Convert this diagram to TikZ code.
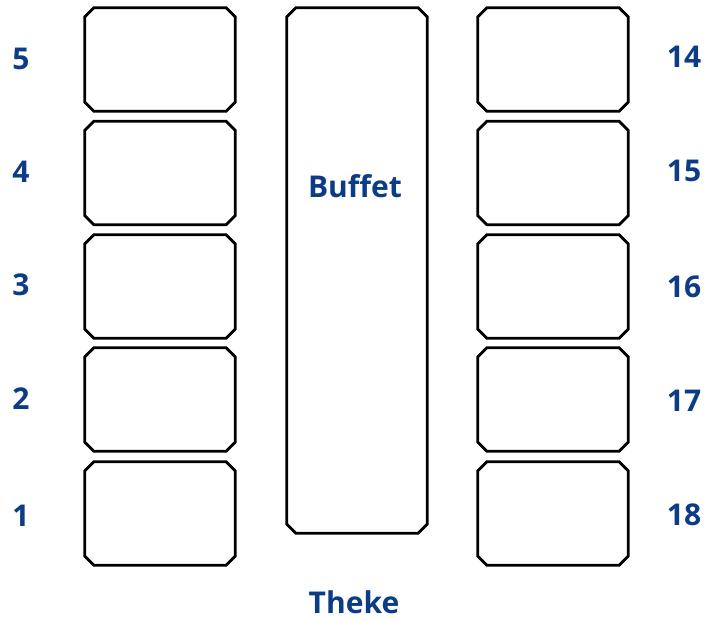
\documentclass[tikz,border=0pt]{standalone}
\usepackage{fontspec}
\setmainfont{Open Sans}
\usepackage{tikz}
\definecolor{labc}{HTML}{0B3C85}

\begin{document}
\begin{tikzpicture}[x=1pt,y=1pt,
  tablebox/.style={rectangle,inner sep=0pt,minimum width=150pt,minimum height=103pt},
  numlab/.style={text=labc,font=\fontsize{30}{32}\selectfont\bfseries},
  edge/.style={draw,line width=2.8pt,line join=miter}]
  \useasboundingbox (0,0) rectangle (708,-620);
  % left row of tables, 1 at the bottom
  \node[tablebox] (t5) at (160,-59.5) {};
  \node[tablebox] (t4) at (160,-173) {};
  \node[tablebox] (t3) at (160,-286.5) {};
  \node[tablebox] (t2) at (160,-399.5) {};
  \node[tablebox] (t1) at (160,-513.5) {};
  \node[numlab] (n5) at (21,-59) {5};
  \node[numlab] (n4) at (21,-172) {4};
  \node[numlab] (n3) at (21,-285) {3};
  \node[numlab] (n2) at (21,-399) {2};
  \node[numlab] (n1) at (21,-516) {1};
  % buffet in the middle
  \node[tablebox,minimum width=140pt,minimum height=525pt] (buffet) at (357,-270.5) {};
  \node[numlab] (bufflab) at (355,-186) {Buffet};
  % right row of tables
  \node[tablebox] (t14) at (553,-59.5) {};
  \node[tablebox] (t15) at (553,-173) {};
  \node[tablebox] (t16) at (553,-286.5) {};
  \node[tablebox] (t17) at (553,-399.5) {};
  \node[tablebox] (t18) at (553,-513.5) {};
  \node[numlab] (n14) at (684,-57) {14};
  \node[numlab] (n15) at (684,-171) {15};
  \node[numlab] (n16) at (684,-287) {16};
  \node[numlab] (n17) at (684,-401) {17};
  \node[numlab] (n18) at (684,-515) {18};
  % counter below
  \node[numlab] (theke) at (354,-602) {Theke};
  % outlines with cut corners
  \foreach \b in {t1,t2,t3,t4,t5,buffet,t14,t15,t16,t17,t18}
    \path[edge] ([xshift=9pt]\b.north west) -- ([xshift=-9pt]\b.north east)
      -- ([yshift=-9pt]\b.north east) -- ([yshift=9pt]\b.south east)
      -- ([xshift=-9pt]\b.south east) -- ([xshift=9pt]\b.south west)
      -- ([yshift=9pt]\b.south west) -- ([yshift=-9pt]\b.north west) -- cycle;
\end{tikzpicture}
\end{document}
